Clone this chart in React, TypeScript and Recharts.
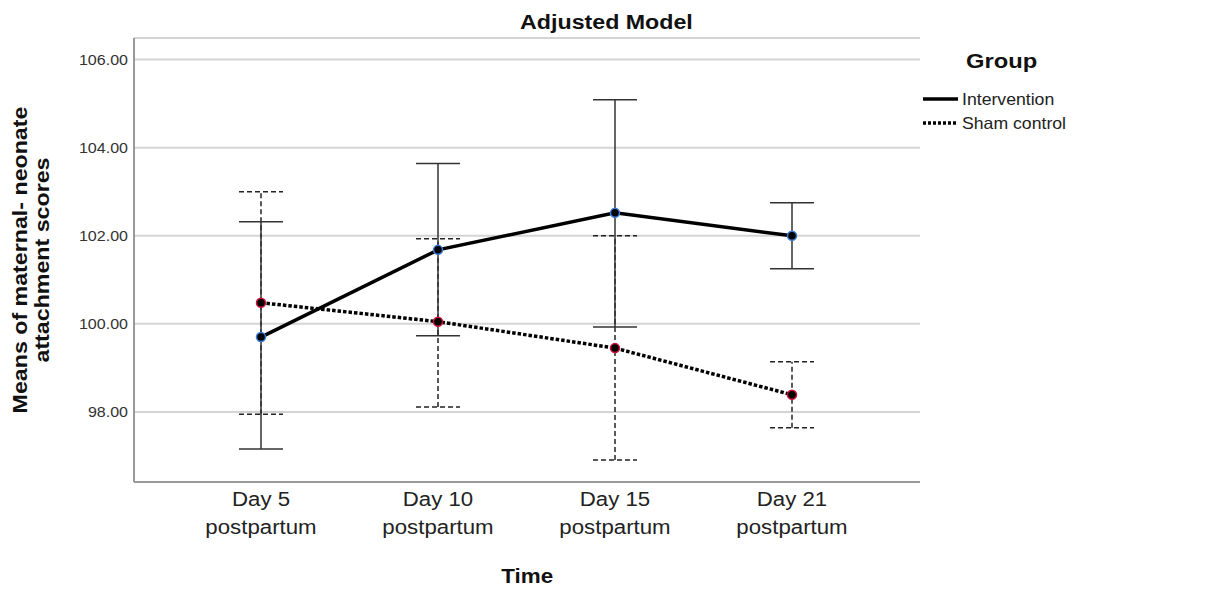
import React from 'react';
import { LineChart, Line, XAxis, YAxis, CartesianGrid, ErrorBar } from 'recharts';

const timeLabels = ['Day 5', 'Day 10', 'Day 15', 'Day 21'];
const timeSub = ['postpartum', 'postpartum', 'postpartum', 'postpartum'];

const interventionMean = [99.7, 101.68, 102.52, 102.0];
const interventionLow = [97.16, 99.73, 99.93, 101.25];
const interventionHigh = [102.32, 103.64, 105.09, 102.75];

const shamMean = [100.48, 100.05, 99.45, 98.39];
const shamLow = [97.95, 98.11, 96.91, 97.64];
const shamHigh = [103.0, 101.93, 102.0, 99.14];

const yTicks = [98, 100, 102, 104, 106];

const data = timeLabels.map((t, i) => ({
  time: t,
  sub: timeSub[i],
  intervention: interventionMean[i],
  intErr: [interventionMean[i] - interventionLow[i], interventionHigh[i] - interventionMean[i]],
  sham: shamMean[i],
  shamErr: [shamMean[i] - shamLow[i], shamHigh[i] - shamMean[i]],
}));

const FONT = '"Liberation Sans", Arial, sans-serif';
const SX = 1.13;

const XTick = (props: any) => {
  const { x, payload, index } = props;
  return (
    <g transform={`translate(${x},482) scale(1.06,1)`}>
      <text x={0} y={24} textAnchor="middle" fontFamily={FONT} fontSize={21} fill="#222">
        {payload.value}
      </text>
      <text x={0} y={52} textAnchor="middle" fontFamily={FONT} fontSize={21} fill="#222">
        {timeSub[index] ?? 'postpartum'}
      </text>
    </g>
  );
};

const YTick = (props: any) => {
  const { y, payload } = props;
  return (
    <g transform={`translate(128,${y}) scale(1.07,1)`}>
      <text x={0} y={5} textAnchor="end" fontFamily={FONT} fontSize={15} fill="#333">
        {Number(payload.value).toFixed(2)}
      </text>
    </g>
  );
};

const stretch: React.CSSProperties = {
  display: 'inline-block',
  transform: `scaleX(${SX})`,
  transformOrigin: 'left center',
  whiteSpace: 'nowrap',
};

export default function App() {
  return (
    <div style={{ position: 'absolute', left: 0, top: 0, width: 1208, height: 592, background: '#fff' }}>
      <div
        style={{
          position: 'absolute',
          left: 0,
          width: 1212,
          top: 11,
          textAlign: 'center',
          fontFamily: FONT,
          fontWeight: 'bold',
          fontSize: 20,
          color: '#111',
        }}
      >
        <span style={{ display: 'inline-block', transform: `scaleX(1.16)` }}>Adjusted Model</span>
      </div>
      <div
        style={{
          position: 'absolute',
          left: 31,
          top: 260,
          transform: 'translate(-50%, -50%) rotate(-90deg) scaleX(1.16)',
          whiteSpace: 'nowrap',
          textAlign: 'center',
          fontFamily: FONT,
          fontWeight: 'bold',
          fontSize: 20,
          lineHeight: '22px',
          color: '#111',
        }}
      >
        Means of maternal- neonate
        <br />
        attachment scores
      </div>
      <div
        style={{
          position: 'absolute',
          left: 0,
          width: 1054,
          top: 565,
          textAlign: 'center',
          fontFamily: FONT,
          fontWeight: 'bold',
          fontSize: 20,
          color: '#111',
        }}
      >
        <span style={{ display: 'inline-block', transform: `scaleX(1.12)` }}>Time</span>
      </div>
      <div style={{ position: 'absolute', left: 921, top: 49, width: 260, fontFamily: FONT, zIndex: 2 }}>
        <div style={{ fontWeight: 'bold', fontSize: 21, marginLeft: 45, lineHeight: '24px', color: '#111' }}>
          <span style={stretch}>Group</span>
        </div>
        <div style={{ display: 'flex', alignItems: 'center', marginTop: 14, height: 24 }}>
          <svg width={41} height={10}>
            <line x1={2} y1={5} x2={37} y2={5} stroke="#000" strokeWidth={3.5} />
          </svg>
          <span style={{ ...stretch, fontSize: 16.5, color: '#222', transform: 'scaleX(1.07)' }}>Intervention</span>
        </div>
        <div style={{ display: 'flex', alignItems: 'center', height: 24 }}>
          <svg width={41} height={10}>
            <line x1={2} y1={5} x2={37} y2={5} stroke="#000" strokeWidth={3.5} strokeDasharray="3 2" />
          </svg>
          <span style={{ ...stretch, fontSize: 16.5, color: '#222', transform: 'scaleX(1.07)' }}>Sham control</span>
        </div>
      </div>
      <LineChart width={1208} height={592} data={data} margin={{ top: 38, right: 288, left: 0, bottom: 0 }}>
        <CartesianGrid vertical={false} stroke="#d4d4d4" strokeWidth={2} />
        <XAxis
          dataKey="time"
          height={110}
          padding={{ left: 127, right: 128 }}
          axisLine={{ stroke: '#999', strokeWidth: 2 }}
          tickLine={false}
          tick={<XTick />}
          interval={0}
        />
        <YAxis
          width={134}
          type="number"
          domain={[96.41, 106.49]}
          ticks={yTicks}
          allowDataOverflow
          axisLine={{ stroke: '#999', strokeWidth: 2 }}
          tickLine={false}
          tick={<YTick />}
        />
        <Line
          type="linear"
          dataKey="sham"
          stroke="#000"
          strokeWidth={3.5}
          strokeDasharray="3.5 2"
          isAnimationActive={false}
          dot={{ r: 4.5, fill: '#000', stroke: '#d0103a', strokeWidth: 1.5, strokeDasharray: '' }}
          activeDot={false}
        >
          <ErrorBar
            dataKey="shamErr"
            direction="y"
            width={22}
            stroke="#222"
            strokeWidth={1.5}
            strokeDasharray="5 3"
            isAnimationActive={false}
          />
        </Line>
        <Line
          type="linear"
          dataKey="intervention"
          stroke="#000"
          strokeWidth={3.5}
          isAnimationActive={false}
          dot={{ r: 4.5, fill: '#000', stroke: '#3b7dd8', strokeWidth: 1.5 }}
          activeDot={false}
        >
          <ErrorBar
            dataKey="intErr"
            direction="y"
            width={22}
            stroke="#333"
            strokeWidth={1.5}
            isAnimationActive={false}
          />
        </Line>
      </LineChart>
    </div>
  );
}
